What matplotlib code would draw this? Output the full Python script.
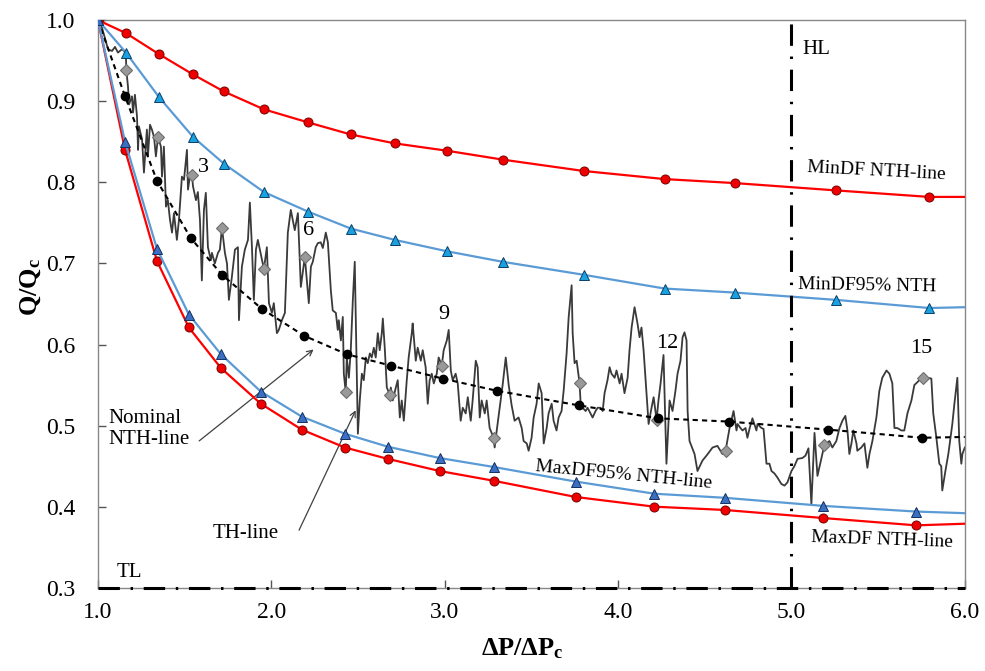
import matplotlib
matplotlib.use('Agg')
import matplotlib.pyplot as plt

plt.rcParams['font.family'] = 'Liberation Serif'
plt.rcParams['mathtext.fontset'] = 'custom'
plt.rcParams['mathtext.rm'] = 'Liberation Serif'
plt.rcParams['mathtext.bf'] = 'Liberation Serif:bold'
plt.rcParams['mathtext.it'] = 'Liberation Serif:italic'

# upper envelope curves (MinDF), last point is the line end at 6.0 (no marker)
upper_x = [1.0, 1.161, 1.352, 1.548, 1.726, 1.957, 2.210, 2.458, 2.712, 3.012, 3.334,
           3.801, 4.268, 4.677, 5.259, 5.795, 6.0]
min_df = [1.0, 0.984, 0.958, 0.933, 0.912, 0.890, 0.874, 0.859, 0.848, 0.839, 0.828,
          0.814, 0.804, 0.799, 0.790, 0.782, 0.782]
min_df95 = [1.0, 0.960, 0.905, 0.856, 0.823, 0.788, 0.764, 0.743, 0.729, 0.715, 0.702,
            0.686, 0.669, 0.664, 0.655, 0.645, 0.646]

# lower envelope curves (MaxDF)
lower_x = [1.0, 1.156, 1.340, 1.524, 1.709, 1.939, 2.176, 2.424, 2.671, 2.971, 3.282,
           3.755, 4.210, 4.614, 5.184, 5.720, 6.0]
max_df = [1.0, 0.840, 0.703, 0.621, 0.571, 0.527, 0.495, 0.473, 0.459, 0.444, 0.432,
          0.412, 0.400, 0.396, 0.386, 0.377, 0.379]
max_df95 = [1.0, 0.850, 0.718, 0.637, 0.588, 0.542, 0.511, 0.490, 0.474, 0.460, 0.449,
            0.431, 0.416, 0.411, 0.401, 0.394, 0.392]

# nominal NTH-line
nom_x = [1.0, 1.156, 1.340, 1.536, 1.715, 1.945, 2.187, 2.435, 2.689, 2.988, 3.300,
         3.772, 4.228, 4.637, 5.213, 5.755, 6.0]
nom_y = [1.0, 0.906, 0.802, 0.731, 0.686, 0.644, 0.611, 0.588, 0.574, 0.558, 0.543,
         0.525, 0.509, 0.505, 0.495, 0.485, 0.486]

# TH-line markers
dia_x = [1.0, 1.163, 1.346, 1.542, 1.715, 1.957, 2.193, 2.429, 2.683, 2.983, 3.282,
         3.778, 4.222, 4.620, 5.190, 5.761]
dia_y = [1.0, 0.939, 0.856, 0.809, 0.744, 0.693, 0.708, 0.541, 0.538, 0.574, 0.485,
         0.552, 0.507, 0.469, 0.476, 0.559]

# TH-line (time history)
th_line = [
    (1.0, 1.0), (1.012, 0.999), (1.058, 0.964), (1.081, 0.962), (1.098, 0.967), (1.115, 0.960),
    (1.138, 0.964), (1.150, 0.962), (1.161, 0.958), (1.163, 0.939), (1.173, 0.918), (1.179, 0.896),
    (1.196, 0.906), (1.202, 0.886), (1.213, 0.908), (1.225, 0.881), (1.231, 0.840), (1.236, 0.869),
    (1.254, 0.853), (1.265, 0.812), (1.282, 0.865), (1.288, 0.832), (1.300, 0.871), (1.311, 0.865),
    (1.323, 0.856), (1.334, 0.832), (1.346, 0.856), (1.363, 0.844), (1.369, 0.807), (1.380, 0.844),
    (1.392, 0.770), (1.403, 0.778), (1.415, 0.754), (1.427, 0.738), (1.438, 0.762), (1.455, 0.729),
    (1.467, 0.754), (1.484, 0.807), (1.496, 0.803), (1.513, 0.840), (1.519, 0.791), (1.530, 0.807),
    (1.542, 0.809), (1.548, 0.795), (1.565, 0.778), (1.576, 0.788), (1.588, 0.754), (1.599, 0.679),
    (1.611, 0.766), (1.622, 0.787), (1.634, 0.720), (1.651, 0.704), (1.657, 0.713), (1.674, 0.700),
    (1.692, 0.713), (1.703, 0.717), (1.715, 0.744), (1.732, 0.713), (1.744, 0.700), (1.755, 0.655),
    (1.772, 0.683), (1.790, 0.717), (1.807, 0.720), (1.813, 0.630), (1.830, 0.696), (1.847, 0.717),
    (1.865, 0.729), (1.876, 0.775), (1.888, 0.720), (1.899, 0.655), (1.911, 0.717), (1.922, 0.729),
    (1.957, 0.693), (1.974, 0.720), (1.986, 0.651), (2.003, 0.639), (2.014, 0.651), (2.032, 0.614),
    (2.043, 0.618), (2.061, 0.630), (2.078, 0.639), (2.095, 0.738), (2.112, 0.766), (2.135, 0.741),
    (2.153, 0.762), (2.170, 0.671), (2.193, 0.708), (2.216, 0.651), (2.228, 0.696), (2.239, 0.702),
    (2.256, 0.720), (2.268, 0.725), (2.285, 0.726), (2.297, 0.719), (2.314, 0.738), (2.326, 0.726),
    (2.343, 0.667), (2.354, 0.642), (2.372, 0.639), (2.383, 0.618), (2.389, 0.630), (2.401, 0.605),
    (2.412, 0.634), (2.418, 0.564), (2.429, 0.541), (2.435, 0.584), (2.447, 0.559), (2.458, 0.593),
    (2.470, 0.655), (2.481, 0.702), (2.493, 0.564), (2.499, 0.490), (2.510, 0.531), (2.522, 0.564),
    (2.533, 0.556), (2.545, 0.584), (2.556, 0.577), (2.568, 0.589), (2.579, 0.584), (2.591, 0.596),
    (2.602, 0.584), (2.614, 0.614), (2.625, 0.593), (2.637, 0.614), (2.643, 0.632), (2.654, 0.596),
    (2.666, 0.547), (2.683, 0.538), (2.689, 0.547), (2.700, 0.531), (2.718, 0.547), (2.729, 0.556),
    (2.741, 0.510), (2.752, 0.531), (2.764, 0.506), (2.781, 0.556), (2.792, 0.584), (2.810, 0.614),
    (2.815, 0.626), (2.833, 0.580), (2.844, 0.596), (2.862, 0.580), (2.873, 0.593), (2.890, 0.572),
    (2.902, 0.527), (2.913, 0.556), (2.925, 0.564), (2.937, 0.552), (2.954, 0.564), (2.965, 0.584),
    (2.983, 0.574), (2.994, 0.593), (3.012, 0.605), (3.023, 0.618), (3.035, 0.568), (3.046, 0.556),
    (3.063, 0.564), (3.075, 0.552), (3.092, 0.506), (3.104, 0.522), (3.121, 0.515), (3.133, 0.535),
    (3.150, 0.506), (3.161, 0.531), (3.179, 0.580), (3.190, 0.572), (3.202, 0.510), (3.213, 0.531),
    (3.231, 0.515), (3.242, 0.531), (3.259, 0.497), (3.282, 0.485), (3.288, 0.473), (3.300, 0.494),
    (3.317, 0.522), (3.334, 0.550), (3.352, 0.584), (3.369, 0.550), (3.386, 0.525), (3.403, 0.506),
    (3.426, 0.510), (3.444, 0.497), (3.455, 0.481), (3.473, 0.478), (3.484, 0.469), (3.501, 0.485),
    (3.513, 0.510), (3.530, 0.527), (3.542, 0.552), (3.559, 0.540), (3.571, 0.478), (3.588, 0.497),
    (3.599, 0.515), (3.617, 0.527), (3.628, 0.506), (3.645, 0.494), (3.657, 0.510), (3.674, 0.518),
    (3.686, 0.543), (3.703, 0.589), (3.715, 0.634), (3.732, 0.673), (3.738, 0.614), (3.749, 0.577),
    (3.761, 0.580), (3.778, 0.552), (3.784, 0.527), (3.795, 0.522), (3.813, 0.518), (3.824, 0.522),
    (3.841, 0.515), (3.853, 0.510), (3.870, 0.518), (3.882, 0.522), (3.899, 0.522), (3.911, 0.518),
    (3.922, 0.540), (3.939, 0.556), (3.951, 0.572), (3.962, 0.564), (3.980, 0.559), (3.991, 0.568),
    (4.009, 0.552), (4.020, 0.564), (4.037, 0.540), (4.055, 0.559), (4.066, 0.593), (4.078, 0.621),
    (4.095, 0.646), (4.112, 0.626), (4.124, 0.609), (4.135, 0.621), (4.147, 0.593), (4.164, 0.540),
    (4.176, 0.502), (4.193, 0.522), (4.205, 0.535), (4.222, 0.507), (4.233, 0.531), (4.245, 0.552),
    (4.262, 0.587), (4.279, 0.453), (4.297, 0.531), (4.314, 0.518), (4.331, 0.543), (4.343, 0.564),
    (4.360, 0.580), (4.372, 0.609), (4.383, 0.615), (4.395, 0.605), (4.401, 0.518), (4.412, 0.481),
    (4.441, 0.465), (4.458, 0.444), (4.487, 0.457), (4.510, 0.463), (4.545, 0.473), (4.573, 0.475),
    (4.602, 0.465), (4.620, 0.469), (4.643, 0.497), (4.666, 0.518), (4.683, 0.494), (4.689, 0.502),
    (4.706, 0.497), (4.718, 0.494), (4.735, 0.497), (4.746, 0.485), (4.758, 0.496), (4.775, 0.509),
    (4.798, 0.494), (4.804, 0.502), (4.827, 0.497), (4.839, 0.496), (4.856, 0.453), (4.873, 0.453),
    (4.885, 0.444), (4.902, 0.441), (4.919, 0.436), (4.942, 0.428), (4.960, 0.426), (4.977, 0.430),
    (5.000, 0.444), (5.017, 0.450), (5.035, 0.459), (5.063, 0.460), (5.081, 0.463), (5.098, 0.472),
    (5.115, 0.403), (5.133, 0.491), (5.150, 0.438), (5.190, 0.476), (5.208, 0.479), (5.219, 0.481),
    (5.236, 0.473), (5.259, 0.481), (5.277, 0.497), (5.294, 0.506), (5.311, 0.512), (5.323, 0.494),
    (5.334, 0.465), (5.346, 0.478), (5.357, 0.494), (5.375, 0.478), (5.380, 0.469), (5.403, 0.473),
    (5.421, 0.478), (5.438, 0.448), (5.450, 0.465), (5.467, 0.481), (5.490, 0.510), (5.507, 0.543),
    (5.524, 0.559), (5.548, 0.568), (5.565, 0.564), (5.582, 0.552), (5.594, 0.497), (5.611, 0.497),
    (5.634, 0.494), (5.651, 0.494), (5.669, 0.515), (5.692, 0.531), (5.709, 0.550), (5.738, 0.556),
    (5.761, 0.559), (5.784, 0.559), (5.807, 0.558), (5.818, 0.515), (5.836, 0.485), (5.853, 0.453),
    (5.864, 0.450), (5.870, 0.420), (5.888, 0.444), (5.905, 0.465), (5.928, 0.502), (5.940, 0.527),
    (5.957, 0.559), (5.968, 0.481), (5.980, 0.453), (5.986, 0.465), (6.0, 0.473),
]

cycle_labels = ['3', '6', '9', '12', '15']
cycle_pos = [(1.611, 0.818), (2.216, 0.740), (2.994, 0.637), (4.285, 0.601), (5.749, 0.595)]

fig = plt.figure(figsize=(9.85, 6.71), dpi=100)
ax = fig.add_axes([0.0995, 0.124, 0.880, 0.846])

# TH-line
tx, ty = zip(*th_line)
ax.plot(tx, ty, '-', color='#3a3a3a', lw=1.3, zorder=2)
ax.plot(dia_x, dia_y, 'D', ms=6.5, mfc='#999999', mec='#6e6e6e', mew=0.8, ls='none', zorder=3)

# nominal NTH-line
ax.plot(nom_x, nom_y, color='black', lw=1.5, ls=(0, (2.5, 2)), marker='o', ms=6,
        mfc='black', mec='black', markevery=list(range(len(nom_x) - 1)), zorder=4)

mk = list(range(len(upper_x) - 1))
ax.plot(upper_x, min_df, color='#ff0000', lw=1.6, marker='o', ms=6.5, mfc='#ee0000',
        mec='#7a0000', mew=0.7, markevery=mk, zorder=5)
ax.plot(lower_x, max_df, color='#ff0000', lw=1.6, marker='o', ms=6.5, mfc='#ee0000',
        mec='#7a0000', mew=0.7, markevery=mk, zorder=5)
ax.plot(upper_x, min_df95, color='#5b9bd5', lw=1.6, marker='^', ms=7, mfc='#1aa1e0',
        mec='#0b3f6a', mew=0.7, markevery=mk, zorder=6)
ax.plot(lower_x, max_df95, color='#5b9bd5', lw=1.6, marker='^', ms=7, mfc='#3b6fc4',
        mec='#13305e', mew=0.7, markevery=mk, zorder=6)

# limits HL and TL
ax.axvline(5.0, color='black', lw=2.2, ls=(0, (7, 3.5, 0.8, 3.5)), zorder=7)
ax.axhline(0.3, color='black', lw=2.2, ls=(0, (7, 3.5, 0.8, 3.5)), zorder=7, clip_on=False)

ax.set_xlim(1.0, 6.0)
ax.set_ylim(0.3, 1.0)
ax.set_xticks([1.0, 2.0, 3.0, 4.0, 5.0, 6.0])
ax.set_yticks([0.3, 0.4, 0.5, 0.6, 0.7, 0.8, 0.9, 1.0])
ax.set_xticklabels(['%.1f' % v for v in ax.get_xticks()])
ax.set_yticklabels(['%.1f' % v for v in ax.get_yticks()])
ax.tick_params(axis='both', direction='in', length=6, width=1, color='#555555',
               labelsize=17)
ax.tick_params(axis='x', pad=10)
ax.tick_params(axis='y', pad=16)
for s in ax.spines.values():
    s.set_color('#888888')
    s.set_linewidth(1.0)

ax.set_ylabel(r'Q/Q$_\mathbf{c}$', fontsize=19, fontweight='bold')
ax.yaxis.set_label_coords(-0.064, 0.53)
ax.set_xlabel(r'ΔP/ΔP$_\mathbf{c}$', fontsize=19, fontweight='bold')
ax.xaxis.set_label_coords(0.49, -0.085)

# annotations
ax.text(5.063, 0.964, 'HL', fontsize=15, ha='left', va='center')
ax.text(1.110, 0.319, 'TL', fontsize=15, ha='left', va='center')
ax.text(5.490, 0.814, 'MinDF NTH-line', fontsize=14, ha='center', va='center', rotation=-3)
ax.text(5.438, 0.673, 'MinDF95% NTH', fontsize=14, ha='center', va='center', rotation=-1)
ax.text(4.032, 0.439, 'MaxDF95% NTH-line', fontsize=14, ha='center', va='center', rotation=-5.5)
ax.text(5.525, 0.359, 'MaxDF NTH-line', fontsize=14, ha='center', va='center', rotation=-2)
for lab, (px, py) in zip(cycle_labels, cycle_pos):
    ax.text(px, py, lab, fontsize=16, ha='center', va='center')

ax.text(1.058, 0.496, 'Nominal\nNTH-line', fontsize=15, ha='left', va='center', linespacing=1.15)
ax.annotate('', xy=(2.256, 0.596), xytext=(1.571, 0.479),
            arrowprops=dict(arrowstyle='->', color='#404040', lw=0.9))
ax.text(1.853, 0.367, 'TH-line', fontsize=15, ha='center', va='center')
ax.annotate('', xy=(2.493, 0.522), xytext=(2.153, 0.368),
            arrowprops=dict(arrowstyle='->', color='#404040', lw=0.9))

fig.savefig('out.png', dpi=100)
